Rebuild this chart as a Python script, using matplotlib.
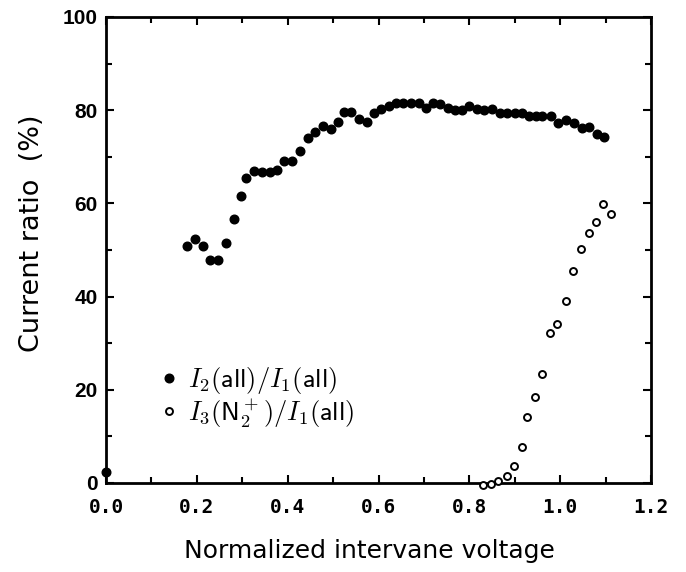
import matplotlib
matplotlib.use("Agg")
import matplotlib.pyplot as plt
from matplotlib.ticker import MultipleLocator

plt.rcParams['mathtext.fontset'] = 'cm'

# I2(all)/I1(all) -- filled circles
x_filled = [0.0, 0.179, 0.197, 0.2125, 0.229, 0.247, 0.264, 0.281, 0.297, 0.309, 0.326,
            0.344, 0.360, 0.377, 0.393, 0.410, 0.428, 0.444, 0.460, 0.478, 0.495,
            0.511, 0.524, 0.540, 0.557, 0.574, 0.590, 0.606, 0.623, 0.639, 0.655,
            0.672, 0.689, 0.705, 0.720, 0.736, 0.752, 0.769, 0.784, 0.800, 0.816,
            0.833, 0.850, 0.867, 0.884, 0.901, 0.917, 0.932, 0.947, 0.961, 0.980,
            0.996, 1.0125, 1.031, 1.047, 1.064, 1.081, 1.097]
y_filled = [2.4, 50.9, 52.4, 50.9, 47.9, 47.9, 51.6, 56.7, 61.6, 65.4, 67.0,
            66.7, 66.7, 67.2, 69.2, 69.2, 71.2, 74.0, 75.3, 76.6, 75.9,
            77.5, 79.7, 79.7, 78.1, 77.5, 79.5, 80.3, 80.8, 81.5, 81.5,
            81.5, 81.5, 80.4, 81.6, 81.4, 80.4, 80.0, 80.0, 80.8, 80.2,
            80.0, 80.2, 79.3, 79.3, 79.3, 79.5, 78.8, 78.8, 78.8, 78.8,
            77.2, 78.0, 77.3, 76.1, 76.3, 75.0, 74.3]

# I3(N2+)/I1(all) -- open circles
x_open = [0.829, 0.848, 0.864, 0.882, 0.899, 0.915, 0.928, 0.944, 0.961, 0.977,
          0.994, 1.012, 1.029, 1.046, 1.063, 1.079, 1.095, 1.113]
y_open = [-0.5, -0.2, 0.5, 1.4, 3.7, 7.7, 14.1, 18.5, 23.3, 32.1,
          34.1, 39.1, 45.6, 50.2, 53.6, 56.1, 59.8, 57.7]

label_filled = r"$I_2(\mathsf{all})/I_1(\mathsf{all})$"
label_open = r"$I_3(\mathsf{N}_2^+)/I_1(\mathsf{all})$"
xlabel = "Normalized intervane voltage"
ylabel = "Current ratio  (%)"
xticks = [0.0, 0.2, 0.4, 0.6, 0.8, 1.0, 1.2]
xticklabels = ["0.0", "0.2", "0.4", "0.6", "0.8", "1.0", "1.2"]
yticks = [0, 20, 40, 60, 80, 100]
yticklabels = ["0", "20", "40", "60", "80", "100"]

fig = plt.figure(figsize=(6.86, 5.72), dpi=100)
ax = fig.add_axes([106/686, 1 - 483/572, 545/686, 466/572])

ax.plot(x_filled, y_filled, 'o', color='black', markersize=6.2, mec='black',
        label=label_filled, clip_on=False, zorder=3)
ax.plot(x_open, y_open, 'o', mfc='white', mec='black', markersize=5.0, mew=1.4,
        label=label_open, clip_on=False, zorder=3)

ax.set_xlim(0, 1.2)
ax.set_ylim(0, 100)
ax.set_xticks(xticks)
ax.set_xticklabels(xticklabels, family='DejaVu Sans Mono', fontsize=14, fontweight='bold')
ax.set_yticks(yticks)
ax.set_yticklabels(yticklabels, family='Liberation Sans', fontsize=15, fontweight='bold')
ax.xaxis.set_minor_locator(MultipleLocator(0.1))
ax.yaxis.set_minor_locator(MultipleLocator(10))
ax.tick_params(which='both', direction='in', top=True, right=True, width=1.5)
ax.tick_params(which='major', length=6)
ax.tick_params(axis='x', which='major', pad=11)
ax.tick_params(axis='y', which='major', pad=6)
ax.tick_params(which='minor', length=4)
for s in ax.spines.values():
    s.set_linewidth(2)

ax.set_xlabel(xlabel, family='DejaVu Sans', fontsize=18)
ax.xaxis.set_label_coords(0.484, -0.12)
ax.set_ylabel(ylabel, family='DejaVu Sans', fontsize=19.5)
ax.yaxis.set_label_coords(-0.112, 0.536)

ax.legend(loc='lower left', bbox_to_anchor=(0.07, 0.086), frameon=False,
          fontsize=19, handletextpad=0.32, labelspacing=0.0, borderpad=0,
          handlelength=0.85)

fig.savefig("out.png", dpi=100)
